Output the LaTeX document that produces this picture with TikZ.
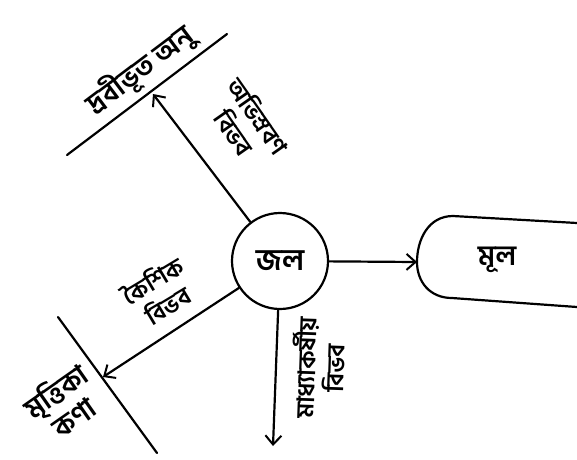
\documentclass[tikz,border=0pt]{standalone}
\usepackage{fontspec}
\newfontfamily\bn[Script=Bengali]{Hind Siliguri}
\usetikzlibrary{arrows.meta,positioning}
\tikzset{
  >={Straight Barb[length=9pt,width=16pt,line width=2pt]},
  ink/.style={line width=2.2pt,line cap=round,line join=round},
  arr/.style={ink,->},
  proc/.style={circle,draw,ink,minimum size=96pt,inner sep=0pt,font=\bn\bfseries\fontsize{30}{32}\selectfont},
  lab/.style={font=\bn\bfseries\fontsize{24}{29}\selectfont,align=center,inner sep=0pt},
  big/.style={font=\bn\bfseries\fontsize{28}{32}\selectfont,align=center,inner sep=0pt},
}
\begin{document}
\begin{tikzpicture}[x=1pt,y=-1pt]
\useasboundingbox (0,0) rectangle (577,459);
% centre
\node[proc] (jal) at (280,261) {জল};
% store on the right
\coordinate (mulL) at (417,262);
\draw[ink] (577,223) -- (453,216) .. controls (428,216) and (417,240) .. (mulL)
  .. controls (417,282) and (430,298) .. (452,298) -- (577,307);
\node[big] (mul) at (497,260) {মূল};
% sinks drawn as bars
\coordinate (dA) at (67,155);
\coordinate (dB) at (227,34);
\coordinate (dT) at (153,94);
\draw[ink] (dA) -- (dB);
\node[big,rotate=37] (drob) at (140,70) {দ্রবীভূত অনু};
\coordinate (mA) at (58,317);
\coordinate (mB) at (157,453);
\coordinate (mT) at (103,377);
\draw[ink] (mA) -- (mB);
\node[big,rotate=35] (mrit) at (64,403) {মৃত্তিকা\\কণা};
\coordinate (gT) at (273,446);
% connectors
\draw[arr] (jal) -- (dT);
\draw[arr] (jal) -- (mT);
\draw[arr] (jal) -- (gT);
\draw[arr] (jal) -- (mulL);
% labels on connectors
\node[lab,rotate=-55] (osm) at (247,124) {অভিস্রবণ\\বিভব};
\node[lab,rotate=31] (kai) at (160,292) {কৈশিক\\বিভব};
\node[lab,rotate=88] (grav) at (318,368) {মাধ্যাকর্ষীয়\\বিভব};
\end{tikzpicture}
\end{document}
